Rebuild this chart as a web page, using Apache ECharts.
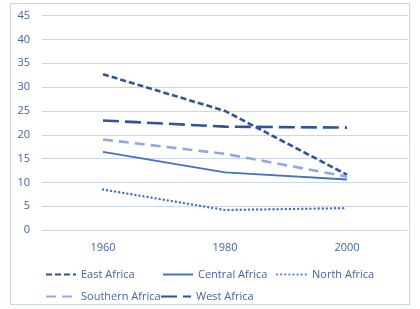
<!DOCTYPE html>
<html>
<head>
<meta charset="utf-8">
<script src="https://cdn.jsdelivr.net/npm/echarts@6/dist/echarts.min.js"></script>
<style>
	html, body { margin: 0; padding: 0; background: #ffffff; }
	#chart { width: 420px; height: 309px; }
</style>
</head>
<body>
<div id="chart"></div>
<script>
	var years = ['1960', '1980', '2000'];
	var eastAfrica = [32.7, 25.0, 11.6];
	var centralAfrica = [16.4, 12.1, 10.6];
	var northAfrica = [8.5, 4.2, 4.6];
	var southernAfrica = [19.0, 16.0, 11.2];
	var westAfrica = [23.0, 21.7, 21.5];

	var textColor = '#44639E';
	var font = 'Open Sans';

	function line(name, data, color, width, dash, cap) {
		return {
			name: name,
			type: 'line',
			data: data,
			symbol: 'none',
			animation: false,
			lineStyle: { color: color, width: width, type: dash, cap: cap || 'butt' },
			itemStyle: { color: color }
		};
	}

	function legendItem(name, left, top) {
		return {
			data: [name],
			left: left,
			top: top,
			itemWidth: 30,
			itemHeight: 10,
			itemGap: 0,
			itemStyle: { opacity: 0 },
			textStyle: { color: textColor, fontFamily: font, fontSize: 11 },
			selectedMode: false
		};
	}

	var myChart = echarts.init(document.getElementById('chart'));
	var option = {
		animation: false,
		graphic: [{
			type: 'rect',
			shape: { x: 10.5, y: 3.5, width: 399, height: 301 },
			style: { fill: 'none', stroke: '#C5D3EC', lineWidth: 1 },
			silent: true
		}],
		grid: { left: 42, right: 12, top: 15.7, bottom: 79 },
		xAxis: {
			type: 'category',
			data: years,
			axisLine: { show: false },
			axisTick: { show: false },
			axisLabel: { color: textColor, fontFamily: font, fontSize: 11, margin: 12 }
		},
		yAxis: {
			type: 'value',
			min: 0,
			max: 45,
			interval: 5,
			axisLine: { show: false },
			axisTick: { show: false },
			axisLabel: { color: textColor, fontFamily: font, fontSize: 11, margin: 12 },
			splitLine: { lineStyle: { color: '#CAD6EE', width: 1.2 } }
		},
		legend: [
			legendItem('East Africa', 40, 264),
			legendItem('Central Africa', 157, 264),
			legendItem('North Africa', 271, 264),
			legendItem('Southern Africa', 40, 286),
			legendItem('West Africa', 155, 286)
		],
		series: [
			line('East Africa', eastAfrica, '#2F5597', 2.6, [6, 3]),
			line('Central Africa', centralAfrica, '#4472C4', 1.8, 'solid'),
			line('North Africa', northAfrica, '#4472C4', 2.4, [0.1, 4], 'round'),
			line('Southern Africa', southernAfrica, '#8FAADC', 2.6, [10, 6]),
			line('West Africa', westAfrica, '#2F5597', 2.6, [16, 6])
		]
	};
	myChart.setOption(option);
</script>
</body>
</html>
